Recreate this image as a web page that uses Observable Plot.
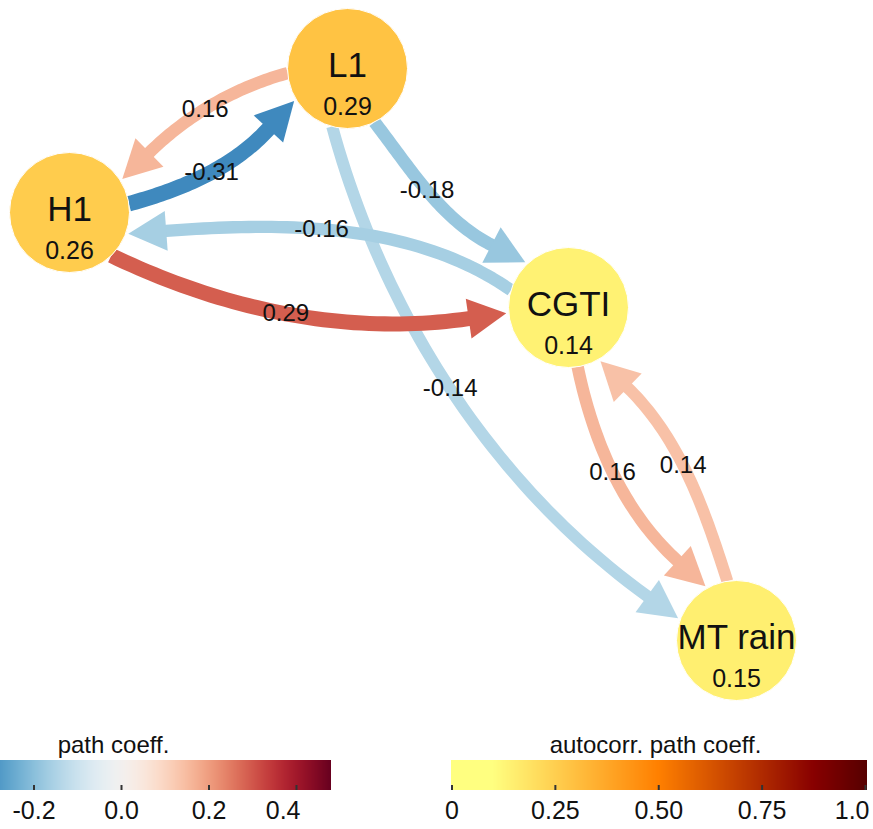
<!DOCTYPE html>
<html>
<head>
<meta charset="utf-8">
<script src="https://cdn.jsdelivr.net/npm/d3@7"></script>
<script src="https://cdn.jsdelivr.net/npm/@observablehq/plot@0.6"></script>
<style>
  html, body { margin: 0; padding: 0; background: #ffffff; }
  #figure { position: relative; width: 873px; height: 829px; overflow: hidden;
            font-family: "Liberation Sans", Arial, sans-serif; }
  #figure svg { font-family: "Liberation Sans", Arial, sans-serif; }
  .legend { position: absolute; top: 730px; }
</style>
</head>
<body>
<div id="figure"></div>
<script>
// ---- data -------------------------------------------------------------
const nodeNames = ["L1", "H1", "CGTI", "MT rain"];
const nodeAutocorr = [0.29, 0.26, 0.14, 0.15];

const edgeFrom  = ["L1", "L1", "H1", "L1", "CGTI", "H1", "CGTI", "MT rain"];
const edgeTo    = ["MT rain", "H1", "L1", "CGTI", "H1", "CGTI", "MT rain", "CGTI"];
const edgeCoeff = [-0.14, 0.16, -0.31, -0.18, -0.16, 0.29, 0.16, 0.14];

const pathTicks = [-0.2, 0, 0.2, 0.4];
const pathTickLabels = ["-0.2", "0.0", "0.2", "0.4"];
const autocorrTicks = [0, 0.25, 0.5, 0.75, 1];
const autocorrTickLabels = ["0", "0.25", "0.50", "0.75", "1.0"];

// ---- layout -----------------------------------------------------------
// node centres in pixels
const nodeX = [347, 69, 568, 736];
const nodeY = [68, 212, 307, 640];
// per edge: where it leaves/enters the circles and its tangent there,
// as angles (degrees) relative to the centre-to-centre line
const attachStart  = [49, 23, 19, 16, 6, 35, 18, 18];
const tangentStart = [19, 12, 12, 5, 24, 15, 15, 9];
const attachEnd    = [35, 5, 4, 1, -9, 16, 3, 4];
const tangentEnd   = [20, 17, 20, 20, 15, 19, 21, 19];
const labelAt      = [0.5, 0.56, 0.55, 0.5, 0.57, 0.5, 0.5, 0.56];

const R = 60, GAP = 2.5, HEAD_LEN = 38, HEAD_W = 40;
const W = 873, H = 730;

// ---- scales -----------------------------------------------------------
const pathColor = {type: "linear", scheme: "rdbu", reverse: true, domain: [-0.48, 0.48]};
const autocorrColor = {
  type: "linear",
  domain: [0, 0.1, 0.5, 0.875, 1],
  range: ["#ffff80", "#ffff80", "#ff8000", "#880000", "#580000"]
};
const pathScale = Plot.scale({color: pathColor});
const autocorrScale = Plot.scale({color: autocorrColor});

// ---- edge geometry ----------------------------------------------------
const toRad = Math.PI / 180;
const unit = a => [Math.cos(a * toRad), Math.sin(a * toRad)];
function bezier(p0, p1, p2, p3, t) {
  const u = 1 - t;
  return [0, 1].map(k => u*u*u*p0[k] + 3*u*u*t*p1[k] + 3*u*t*t*p2[k] + t*t*t*p3[k]);
}

const edges = edgeCoeff.map((v, i) => {
  const a = nodeNames.indexOf(edgeFrom[i]), b = nodeNames.indexOf(edgeTo[i]);
  const A = [nodeX[a], nodeY[a]], B = [nodeX[b], nodeY[b]];
  const phi = Math.atan2(B[1] - A[1], B[0] - A[0]) / toRad;
  const us = unit(phi + attachStart[i]);
  const S = [A[0] + R * us[0], A[1] + R * us[1]];
  const ue = unit(phi + 180 - attachEnd[i]);
  const T = [B[0] + (R + GAP) * ue[0], B[1] + (R + GAP) * ue[1]];
  const hs = unit(phi + tangentStart[i]);
  const he = unit(phi - tangentEnd[i]);
  const E = [T[0] - HEAD_LEN * he[0], T[1] - HEAD_LEN * he[1]];
  const c = Math.hypot(E[0] - S[0], E[1] - S[1]) * 0.34;
  const P1 = [S[0] + c * hs[0], S[1] + c * hs[1]];
  const P2 = [E[0] - c * he[0], E[1] - c * he[1]];
  const shaft = d3.range(0, 49).map(k => {
    const [x, y] = bezier(S, P1, P2, E, k / 48);
    return {x, y, v};
  });
  shaft.push({x: E[0] + 3 * he[0], y: E[1] + 3 * he[1], v});
  const n = [-he[1], he[0]];
  const head = [
    T,
    [E[0] + n[0] * HEAD_W / 2, E[1] + n[1] * HEAD_W / 2],
    [E[0] - n[0] * HEAD_W / 2, E[1] - n[1] * HEAD_W / 2]
  ].map(([x, y]) => ({x, y, v}));
  const [lx, ly] = bezier(S, P1, P2, E, labelAt[i]);
  return {v, width: 9 + 21 * Math.abs(v), shaft, head,
          label: {x: lx, y: ly, text: v.toFixed(2)}};
});

const nodes = nodeNames.map((name, i) => ({
  name, x: nodeX[i], y: nodeY[i], a: nodeAutocorr[i], text: nodeAutocorr[i].toFixed(2)
}));

// ---- network ----------------------------------------------------------
const edgeMarks = edges.flatMap(e => [
  Plot.line(e.shaft, {x: "x", y: "y", stroke: "v", strokeWidth: e.width,
                      strokeLinecap: "butt", strokeLinejoin: "round"}),
  Plot.line(e.head, {x: "x", y: "y", fill: pathScale.apply(e.v), stroke: "none"})
]);

const network = Plot.plot({
  width: W, height: H, margin: 0,
  x: {domain: [0, W], range: [0, W], axis: null},
  y: {domain: [0, H], range: [0, H], axis: null},
  color: pathColor,
  style: {background: "transparent"},
  marks: [
    ...edgeMarks,
    Plot.dot(nodes, {x: "x", y: "y", r: R, fill: d => autocorrScale.apply(d.a),
                     stroke: "#ffffff", strokeWidth: 1}),
    Plot.text(nodes, {x: "x", y: d => d.y - 3, text: "name", fontSize: 35,
                      fill: "#111", lineAnchor: "middle"}),
    Plot.text(nodes, {x: "x", y: d => d.y + 38, text: "text", fontSize: 25,
                      fill: "#111", lineAnchor: "middle"}),
    Plot.text(edges.map(e => e.label), {x: "x", y: "y", text: "text", fontSize: 24,
                      fill: "#111", lineAnchor: "middle"})
  ]
});

// ---- colour bars ------------------------------------------------------
function colorBar({width, xDomain, xRange, barFrom, barTo, color, ticks, tickLabels, title, titleX}) {
  const xs = d3.scaleLinear().domain(xDomain).range(xRange);
  const n = Math.ceil(Math.abs(xs(barTo) - xs(barFrom)));
  const step = (barTo - barFrom) / n;
  const bins = d3.range(n).map(k => ({x1: barFrom + k * step, x2: barFrom + (k + 1) * step,
                                      m: barFrom + (k + 0.5) * step}));
  const last = ticks.length - 1;
  const inner = ticks.slice(0, last), end = ticks.slice(last);
  return Plot.plot({
    width, height: 99, margin: 0,
    x: {domain: xDomain, range: xRange, axis: null},
    y: {domain: [0, 99], range: [0, 99], axis: null},
    color,
    marks: [
      Plot.rect(bins, {x1: "x1", x2: "x2", y1: 30, y2: 60, fill: "m", clip: true,
                       shapeRendering: "crispEdges", insetLeft: -0.3, insetRight: -0.3}),
      Plot.ruleX(ticks, {x: d => d, y1: 55, y2: 60, stroke: "#333", strokeWidth: 2}),
      Plot.text(inner, {x: d => d, y: 80, text: (d, i) => tickLabels[i], fontSize: 25,
                        fill: "#111", lineAnchor: "middle"}),
      // the last label is kept inside the right edge
      Plot.text(end, {x: d => d, y: 80, text: () => tickLabels[last], fontSize: 25,
                      fill: "#111", lineAnchor: "middle", textAnchor: "end", dx: 4}),
      Plot.text([title], {frameAnchor: "top-left", dx: titleX, dy: 15, fontSize: 24,
                          fill: "#111", lineAnchor: "middle", textAnchor: "middle"})
    ]
  });
}

const pathLegend = colorBar({
  width: 333, xDomain: [-0.48, 0.48], xRange: [-89, 331],
  barFrom: -0.48, barTo: 0.48, color: pathColor,
  ticks: pathTicks, tickLabels: pathTickLabels, title: "path coeff.", titleX: 113
});
const autocorrLegend = colorBar({
  width: 433, xDomain: [0, 1], xRange: [11.5, 425],
  barFrom: 0, barTo: 1.005, color: autocorrColor,
  ticks: autocorrTicks, tickLabels: autocorrTickLabels, title: "autocorr. path coeff.", titleX: 215
});

const fig = document.getElementById("figure");
fig.appendChild(network);
const left = document.createElement("div");
left.className = "legend"; left.style.left = "0px";
left.appendChild(pathLegend);
const right = document.createElement("div");
right.className = "legend"; right.style.left = "440px";
right.appendChild(autocorrLegend);
fig.appendChild(left);
fig.appendChild(right);
</script>
</body>
</html>
